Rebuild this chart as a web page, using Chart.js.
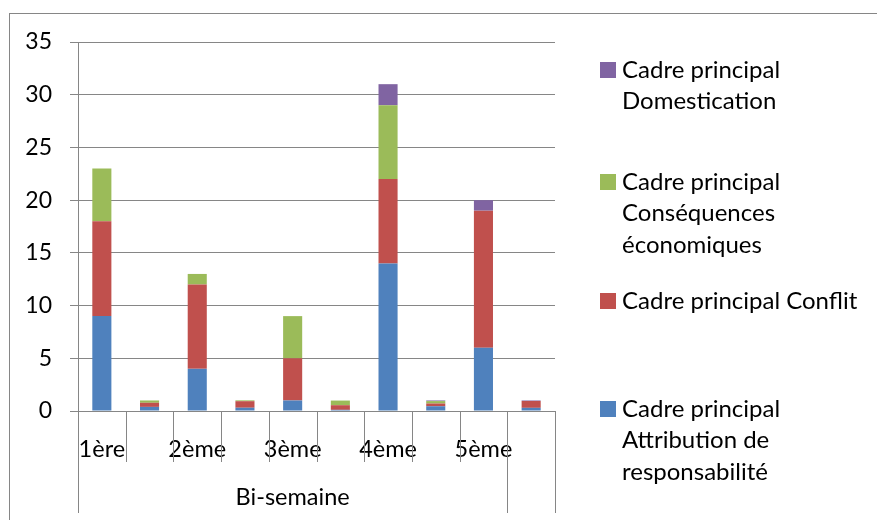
<!DOCTYPE html>
<html>
<head>
<meta charset="utf-8">
<script src="https://cdn.jsdelivr.net/npm/chart.js@4.4.0/dist/chart.umd.min.js"></script>
<style>
  html, body { margin: 0; padding: 0; background: #fff; }
  #wrap { width: 877px; height: 520px; }
</style>
</head>
<body>
<div id="wrap"><canvas id="chart" width="877" height="520"></canvas></div>
<script>
// Categories (a blank slot follows each bi-week)
const categories = ["1ère", "", "2ème", "", "3ème", "", "4ème", "", "5ème", ""];
const groupLabel = "Bi-semaine";

// Series values, bottom to top of the stack
const attribution = [9, 0.39, 4, 0.31, 1, 0.11, 14, 0.45, 6, 0.3];
const conflit = [9, 0.39, 8, 0.62, 4, 0.44, 8, 0.26, 13, 0.65];
const consequences = [5, 0.22, 1, 0.08, 4, 0.44, 7, 0.23, 0, 0];
const domestication = [0, 0, 0, 0, 0, 0, 2, 0.06, 1, 0.05];

const seriesNames = [
  "Cadre principal Attribution de responsabilité",
  "Cadre principal Conflit",
  "Cadre principal Conséquences économiques",
  "Cadre principal Domestication",
];
const seriesColors = ["#4F81BD", "#C0504D", "#9BBB59", "#8064A2"];

// Y ticks
const yMax = 35;
const yStep = 5;

const gridColor = "#868686";
const fontFamily = "Lato, 'Open Sans', sans-serif";
Chart.defaults.font.family = fontFamily;

// Draws the multi-level category axis, the outer frame and the legend
const decorPlugin = {
  id: "decor",
  afterDraw(chart) {
    const ctx = chart.ctx;
    const x = chart.scales.x;
    const area = chart.chartArea;
    const step = x.width / categories.length;

    ctx.save();
    ctx.strokeStyle = gridColor;
    ctx.lineWidth = 1;

    // outer frame
    ctx.strokeRect(9.5, 13.5, 900, 600);

    // category separators
    for (let i = 0; i <= categories.length; i++) {
      const px = Math.round(x.left + i * step) + 0.5;
      const long = i === 0 || i === categories.length - 1 || i === categories.length;
      ctx.beginPath();
      ctx.moveTo(px, area.bottom);
      ctx.lineTo(px, long ? 513 : 462);
      ctx.stroke();
    }

    // group label
    ctx.fillStyle = "#000";
    ctx.font = "23.5px " + fontFamily;
    ctx.textAlign = "center";
    ctx.textBaseline = "middle";
    const groupEnd = x.left + (categories.length - 1) * step;
    ctx.fillText(groupLabel, (x.left + groupEnd) / 2, 497);

    // legend (top entry is the top of the stack)
    const firstLineY = [409, 301, 182, 70];
    const textX = 622;
    const maxW = 250;
    ctx.font = "24px " + fontFamily;
    ctx.textAlign = "left";
    chart.data.datasets.forEach((ds, i) => {
      const words = ds.label.split(" ");
      const lines = [];
      let cur = "";
      words.forEach((w) => {
        const test = cur ? cur + " " + w : w;
        if (ctx.measureText(test).width > maxW && cur) {
          lines.push(cur);
          cur = w;
        } else {
          cur = test;
        }
      });
      lines.push(cur);
      const y0 = firstLineY[i];
      ctx.fillStyle = ds.backgroundColor;
      ctx.fillRect(600, y0 - 8, 16, 16);
      ctx.fillStyle = "#000";
      lines.forEach((ln, k) => {
        ctx.fillText(ln, textX, y0 + k * 31.5);
      });
    });
    ctx.restore();
  },
};

const seriesData = [attribution, conflit, consequences, domestication];

new Chart(document.getElementById("chart"), {
  type: "bar",
  data: {
    labels: categories,
    datasets: seriesData.map((d, i) => ({
      label: seriesNames[i],
      data: d,
      backgroundColor: seriesColors[i],
      borderWidth: 0,
      barPercentage: 0.4,
      categoryPercentage: 1,
    })),
  },
  options: {
    responsive: false,
    animation: false,
    layout: { padding: { left: 0, top: 42, right: 322, bottom: 0 } },
    plugins: {
      legend: { display: false },
      tooltip: { enabled: false },
    },
    scales: {
      x: {
        stacked: true,
        grid: { display: false, offset: true },
        border: { display: true, color: gridColor },
        ticks: {
          color: "#000",
          font: { size: 23.5 },
          padding: 16,
          autoSkip: false,
          maxRotation: 0,
        },
        afterFit(scale) {
          scale.height = 109;
        },
      },
      y: {
        stacked: true,
        min: 0,
        max: yMax,
        grid: { color: gridColor, tickLength: 8 },
        border: { display: true, color: gridColor },
        ticks: {
          stepSize: yStep,
          color: "#000",
          font: { size: 23 },
          padding: 18,
        },
        afterFit(scale) {
          scale.width = 78;
        },
      },
    },
  },
  plugins: [decorPlugin],
});
</script>
</body>
</html>
